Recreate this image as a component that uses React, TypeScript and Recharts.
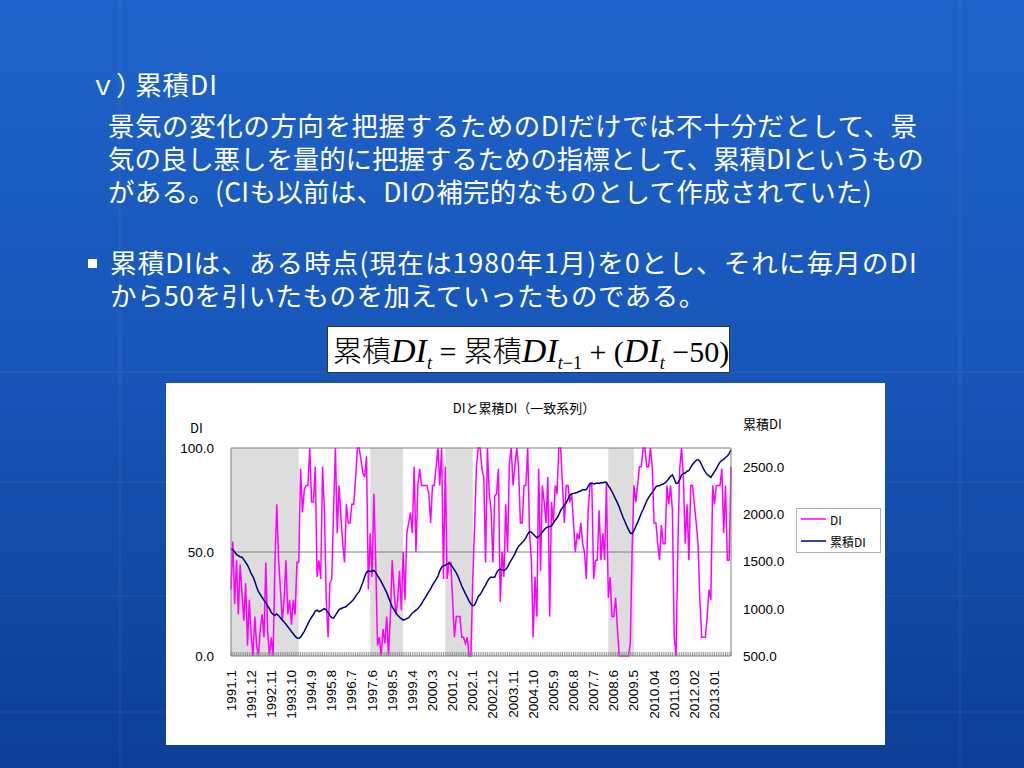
import React from "react";
import {
  LineChart,
  Line,
  XAxis,
  YAxis,
  ReferenceArea,
  ReferenceLine,
} from "recharts";

// monthly categories 1991.1 .. 2013.10 (format switches to 2-digit months from 2010)
const MONTHS: string[] = [];
for (let y = 1991; y <= 2013; y++) {
  for (let m = 1; m <= 12; m++) {
    if (y === 2013 && m > 10) break;
    MONTHS.push(y >= 2010 ? `${y}.${String(m).padStart(2, "0")}` : `${y}.${m}`);
  }
}

const TICK_LABELS = [
  "1991.1", "1991.12", "1992.11", "1993.10", "1994.9", "1995.8", "1996.7",
  "1997.6", "1998.5", "1999.4", "2000.3", "2001.2", "2002.1", "2002.12",
  "2003.11", "2004.10", "2005.9", "2006.8", "2007.7", "2008.6", "2009.5",
  "2010.04", "2011.03", "2012.02", "2013.01",
];

// DI (一致系列), one row per year
const DI = [
  32, 55, 25, 46, 20, 44, 30, 17, 35, 5, 27, 10,
  0, 19, 5, 0, 13, 20, 9, 45, 12, 0, 9, 0,
  45, 73, 46, 32, 17, 27, 46, 20, 27, 15, 27, 20,
  45, 45, 90, 69, 80, 82, 82, 100, 74, 74, 91, 38,
  46, 37, 91, 70, 27, 9, 35, 37, 70, 100, 59, 82,
  67, 54, 45, 73, 64, 64, 73, 73, 85, 100, 100, 94,
  88, 86, 96, 32, 59, 38, 78, 46, 5, 9, 0, 13,
  6, 19, 0, 19, 46, 32, 20, 27, 41, 22, 50, 27,
  59, 64, 69, 59, 91, 50, 82, 90, 82, 82, 82, 82,
  78, 64, 82, 82, 91, 100, 82, 100, 37, 91, 37, 45,
  45, 27, 9, 19, 19, 19, 9, 9, 6, 9, 0, 0,
  37, 62, 91, 100, 100, 90, 86, 45, 100, 78, 70, 45,
  77, 78, 90, 26, 50, 38, 73, 50, 93, 100, 82, 91,
  100, 91, 64, 64, 82, 82, 100, 59, 46, 9, 38, 19,
  90, 41, 82, 74, 64, 86, 19, 74, 64, 82, 78, 100,
  100, 82, 64, 82, 82, 74, 78, 64, 50, 59, 56, 64,
  54, 50, 37, 70, 82, 83, 37, 46, 46, 70, 46, 59,
  46, 83, 28, 38, 19, 19, 28, 13, 0, 0, 0, 0,
  0, 0, 6, 50, 82, 74, 82, 91, 91, 100, 100, 91,
  91, 100, 91, 64, 64, 54, 46, 63, 54, 54, 82, 73,
  82, 70, 9, 0, 54, 90, 100, 86, 54, 73, 46, 82,
  82, 73, 64, 54, 27, 9, 9, 9, 19, 32, 27, 82,
  73, 82, 82, 82, 90, 59, 82, 46, 46, 91,
];

// 累積DI, one row per year
const CUM_DI = [
  1630, 1625, 1600, 1575, 1560, 1550, 1545, 1520, 1490, 1460, 1420, 1370,
  1340, 1290, 1230, 1180, 1150, 1120, 1090, 1065, 1030, 1000, 960, 940,
  930, 945, 925, 905, 880, 860, 835, 810, 785, 760, 735, 710,
  690, 688, 700, 730, 760, 800, 840, 880, 910, 940, 975, 985,
  970, 975, 990, 1000, 985, 960, 930, 905, 900, 930, 960, 990,
  1000, 1010, 1015, 1025, 1045, 1060, 1080, 1100, 1130, 1160, 1180, 1230,
  1280, 1340, 1385, 1400, 1395, 1400, 1405, 1385, 1350, 1320, 1290, 1250,
  1210, 1170, 1120, 1070, 1020, 990, 960, 930, 910, 895, 880, 885,
  895, 905, 930, 955, 970, 985, 1000, 1025, 1050, 1085, 1115, 1150,
  1180, 1210, 1250, 1280, 1310, 1345, 1400, 1440, 1455, 1460, 1470, 1485,
  1470, 1440, 1410, 1380, 1340, 1290, 1240, 1200, 1160, 1120, 1080, 1050,
  1030, 1040, 1080, 1130, 1150, 1180, 1220, 1250, 1290, 1320, 1335, 1330,
  1335, 1380, 1410, 1420, 1410, 1405, 1415, 1440, 1480, 1515, 1545, 1580,
  1625, 1660, 1680, 1700, 1720, 1750, 1790, 1815, 1810, 1790, 1770, 1750,
  1765, 1785, 1810, 1835, 1855, 1865, 1870, 1875, 1905, 1935, 1960, 1995,
  2040, 2070, 2095, 2120, 2160, 2200, 2215, 2220, 2225, 2230, 2240, 2245,
  2260, 2255, 2260, 2295, 2325, 2330, 2320, 2325, 2330, 2325, 2335, 2330,
  2340, 2335, 2300, 2275, 2240, 2200, 2160, 2120, 2075, 2020, 1970, 1925,
  1880, 1840, 1800, 1795, 1825, 1870, 1910, 1960, 2010, 2050, 2095, 2140,
  2175, 2205, 2230, 2260, 2290, 2300, 2300, 2315, 2320, 2330, 2350, 2375,
  2400, 2415, 2375, 2325, 2330, 2365, 2415, 2430, 2435, 2455, 2460, 2495,
  2525, 2550, 2570, 2578, 2560, 2520, 2480, 2445, 2420, 2405, 2390, 2420,
  2450, 2480, 2520, 2550, 2570, 2580, 2600, 2615, 2640, 2680,
];

// shaded recession periods (start, end)
const RECESSIONS = [
  ["1991.1", "1994.2"],
  ["1997.5", "1998.11"],
  ["2000.10", "2002.1"],
  ["2008.3", "2009.5"],
];

const data = MONTHS.map((m, i) => ({ month: m, di: DI[i], cum: CUM_DI[i] }));

const CHART_FONT = "'Liberation Sans', 'Noto Sans CJK JP', sans-serif";
const JP_FONT = "'Noto Sans CJK JP', sans-serif";

function MonthTick(props: any) {
  const { x, y, payload } = props;
  const show = TICK_LABELS.includes(payload.value);
  const ty = y + 14;
  return (
    <g>
      <line x1={x} y1={y - 4} x2={x} y2={y} stroke="#808080" strokeWidth={0.8} />
      {show && (
        <text
          x={x}
          y={ty}
          transform={`rotate(-90 ${x} ${ty})`}
          textAnchor="end"
          dominantBaseline="central"
          fontSize={13.5}
          fill="#000"
        >
          {payload.value}
        </text>
      )}
    </g>
  );
}

function LegendBox() {
  return (
    <div
      style={{
        position: "absolute",
        left: 630,
        top: 125,
        width: 85,
        height: 45,
        border: "1px solid #b0b0b0",
        background: "#fff",
        boxSizing: "border-box",
        fontFamily: JP_FONT,
      }}
    >
      <svg width={85} height={45} style={{ position: "absolute", left: -1, top: -1 }}>
        <line x1={5} y1={11} x2={30} y2={11} stroke="#ff00ff" strokeWidth={1.5} />
        <line x1={5} y1={33} x2={30} y2={33} stroke="#000080" strokeWidth={1.5} />
        <text x={34} y={11} dominantBaseline="central" fontSize={12} fill="#000">DI</text>
        <text x={34} y={33} dominantBaseline="central" fontSize={12} fill="#000">累積DI</text>
      </svg>
    </div>
  );
}

function DIChart() {
  return (
    <div
      style={{
        position: "absolute",
        left: 166,
        top: 383,
        width: 719,
        height: 362,
        background: "#fff",
        fontFamily: CHART_FONT,
      }}
    >
      <div
        style={{
          position: "absolute",
          left: 0,
          width: 716,
          top: 15,
          textAlign: "center",
          fontFamily: JP_FONT,
          fontSize: 13,
          lineHeight: "20px",
          color: "#000",
        }}
      >
        DIと累積DI（一致系列）
      </div>
      <div style={{ position: "absolute", left: 24, top: 36, fontFamily: JP_FONT, fontSize: 13, lineHeight: "18px" }}>
        DI
      </div>
      <div style={{ position: "absolute", left: 577, top: 32, fontFamily: JP_FONT, fontSize: 13, lineHeight: "18px" }}>
        累積DI
      </div>
      <LineChart
        width={719}
        height={362}
        data={data}
        margin={{ top: 65, right: 94, left: 0, bottom: 0 }}
      >
        <XAxis
          dataKey="month"
          interval={0}
          height={89}
          tickLine={false}
          tickSize={0}
          tickMargin={0}
          stroke="#808080"
          tick={<MonthTick />}
        />
        <YAxis
          yAxisId="left"
          domain={[0, 100]}
          ticks={[0, 50, 100]}
          width={65}
          tickLine={false}
          tickSize={0}
          tickMargin={17}
          stroke="#808080"
          tick={{ fill: "#000", fontSize: 13.5 }}
          tickFormatter={(v: number) => v.toFixed(1)}
        />
        <YAxis
          yAxisId="right"
          orientation="right"
          domain={[500, 2700]}
          ticks={[500, 1000, 1500, 2000, 2500]}
          width={60}
          tickLine={false}
          tickSize={0}
          tickMargin={12}
          stroke="#808080"
          tick={{ fill: "#000", fontSize: 13.5 }}
          tickFormatter={(v: number) => v.toFixed(1)}
        />
        {RECESSIONS.map(([a, b]) => (
          <ReferenceArea
            key={a}
            yAxisId="left"
            x1={a}
            x2={b}
            y1={0}
            y2={100}
            fill="#dddddd"
            fillOpacity={1}
            stroke="none"
          />
        ))}
        <ReferenceLine yAxisId="left" y={50} stroke="#808080" />
        <ReferenceLine yAxisId="left" y={100} stroke="#808080" />
        <Line
          yAxisId="left"
          dataKey="di"
          name="DI"
          type="linear"
          stroke="#ff00ff"
          strokeWidth={1.5}
          dot={false}
          isAnimationActive={false}
        />
        <Line
          yAxisId="right"
          dataKey="cum"
          name="累積DI"
          type="linear"
          stroke="#000080"
          strokeWidth={1.5}
          dot={false}
          isAnimationActive={false}
        />
      </LineChart>
      <LegendBox />
    </div>
  );
}

const TEXT_LINES = [
  { text: "景気の変化の方向を把握するためのDIだけでは不十分だとして、景", x: 108, cy: 126, ls: 0.55 },
  { text: "気の良し悪しを量的に把握するための指標として、累積DIというもの", x: 108, cy: 159, ls: -0.1 },
  { text: "がある。(CIも以前は、DIの補完的なものとして作成されていた)", x: 108, cy: 192, ls: 0.25 },
  { text: "累積DIは、ある時点(現在は1980年1月)を0とし、それに毎月のDI", x: 110, cy: 263, ls: 1.15 },
  { text: "から50を引いたものを加えていったものである。", x: 110, cy: 296, ls: 0.5 },
];

const textStyle = {
  position: "absolute" as const,
  fontFamily: JP_FONT,
  fontSize: 26.5,
  lineHeight: "30px",
  color: "#fff",
  whiteSpace: "nowrap" as const,
};

const serifStyle = { fontFamily: "'Liberation Serif', 'DejaVu Serif', serif" };
const diStyle = { ...serifStyle, fontStyle: "italic", fontSize: 34 };
const subStyle = { ...serifStyle, fontSize: 18, verticalAlign: -7 };

export default function App() {
  return (
    <div
      style={{
        position: "fixed",
        left: 0,
        top: 0,
        width: 1024,
        height: 768,
        overflow: "hidden",
        background: "linear-gradient(180deg, #1e62c9 0%, #1857ba 45%, #0d3f95 100%)",
      }}
    >
      <svg width={1024} height={768} style={{ position: "absolute", left: 0, top: 0 }}>
        {[372, 482, 596, 712].map((y) => (
          <line key={y} x1={0} y1={y} x2={1024} y2={y} stroke="rgba(255,255,255,0.07)" />
        ))}
        {[120, 960].map((x) => (
          <line key={x} x1={x} y1={0} x2={x} y2={768} stroke="rgba(255,255,255,0.07)" />
        ))}
      </svg>
      <div style={{ ...textStyle, left: 94, top: 85 - 16 }}>
        <span style={{ fontFeatureSettings: "'palt'", letterSpacing: 5 }}>ｖ）</span>
        <span style={{ letterSpacing: 1 }}>累積DI</span>
      </div>
      {TEXT_LINES.map((l) => (
        <div key={l.text} style={{ ...textStyle, left: l.x, top: l.cy - 16, letterSpacing: l.ls }}>
          {l.text}
        </div>
      ))}
      <div style={{ position: "absolute", left: 88, top: 259, width: 9, height: 9, background: "#fff" }} />
      <div
        style={{
          position: "absolute",
          left: 327,
          top: 326,
          width: 403,
          height: 47,
          background: "#fff",
          boxSizing: "border-box",
          border: "1px solid #333",
          fontSize: 30,
          lineHeight: "45px",
          color: "#000",
          paddingLeft: 5,
          whiteSpace: "nowrap",
          ...serifStyle,
        }}
      >
        <span style={{ fontFamily: JP_FONT, fontWeight: 300, fontSize: 29 }}>累積</span>
        <span style={diStyle}>DI</span>
        <span style={{ ...subStyle, fontStyle: "italic" }}>t</span>
        <span> = </span>
        <span style={{ fontFamily: JP_FONT, fontWeight: 300, fontSize: 29 }}>累積</span>
        <span style={diStyle}>DI</span>
        <span style={subStyle}>
          <i>t</i>−1
        </span>
        <span> + (</span>
        <span style={diStyle}>DI</span>
        <span style={{ ...subStyle, fontStyle: "italic" }}>t</span>
        <span> −50)</span>
      </div>
      <DIChart />
    </div>
  );
}
